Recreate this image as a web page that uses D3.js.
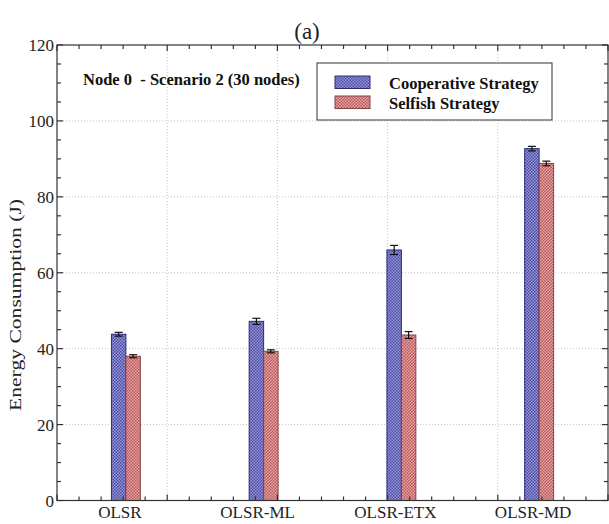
<!DOCTYPE html>
<html><head><meta charset="utf-8">
<script src="https://cdn.jsdelivr.net/npm/d3@7/dist/d3.min.js"></script>
<style>body{margin:0;background:#fff}svg{display:block}text{font-family:"Liberation Serif","Times New Roman",serif}</style>
</head><body><svg id="c" width="609" height="524"></svg>
<script>
const categories = ["OLSR","OLSR-ML","OLSR-ETX","OLSR-MD"];
const seriesNames = ["Cooperative Strategy","Selfish Strategy"];
const cooperative = [43.8, 47.2, 66.0, 92.7];
const cooperativeErr = [0.5, 0.8, 1.2, 0.6];
const selfish = [38.0, 39.3, 43.6, 88.8];
const selfishErr = [0.4, 0.4, 0.9, 0.6];
const yTicks = [0,20,40,60,80,100,120];
const xGridTicks = [1.3, 2.1, 2.9, 3.7];

const svg = d3.select("#c");
const m = {l:57, r:608, t:45, b:500.5};
const x = d3.scaleLinear().domain([0.5,4.5]).range([m.l,m.r]);
const y = d3.scaleLinear().domain([0,120]).range([m.b,m.t]);

const defs = svg.append("defs");
function pat(id, base, dot){
  const p = defs.append("pattern").attr("id",id).attr("width",3).attr("height",3).attr("patternUnits","userSpaceOnUse");
  p.append("rect").attr("width",3).attr("height",3).attr("fill",base);
  p.append("rect").attr("x",0).attr("y",0).attr("width",1.5).attr("height",1.5).attr("fill",dot);
  p.append("rect").attr("x",1.5).attr("y",1.5).attr("width",1.5).attr("height",1.5).attr("fill",dot);
}
pat("pb","#9898dc","#4a4a9e");
pat("pr","#e8a4a4","#b65a5a");

// grid
const g = svg.append("g");
g.selectAll(".gy").data(yTicks.filter(d=>d>0&&d<120)).join("line")
 .attr("x1",m.l).attr("x2",m.r).attr("y1",d=>y(d)).attr("y2",d=>y(d))
 .attr("stroke","#c4c4c4").attr("stroke-dasharray","1,2").attr("stroke-width",1);
g.selectAll(".gx").data(xGridTicks).join("line")
 .attr("y1",m.t).attr("y2",m.b).attr("x1",d=>x(d)).attr("x2",d=>x(d))
 .attr("stroke","#c4c4c4").attr("stroke-dasharray","1,2").attr("stroke-width",1);

// bars
const bw = 0.105;
const series = [
 {vals:cooperative, err:cooperativeErr, off:-bw, fill:"url(#pb)", stroke:"#2c2c78"},
 {vals:selfish, err:selfishErr, off:0, fill:"url(#pr)", stroke:"#8a4040"}
];
series.forEach(s=>{
  const gg = svg.append("g");
  gg.selectAll("rect").data(s.vals).join("rect")
   .attr("x",(d,i)=>x(i+1+s.off)).attr("width",x(bw)-x(0))
   .attr("y",d=>y(d)).attr("height",d=>y(0)-y(d))
   .attr("fill",s.fill).attr("stroke",s.stroke).attr("stroke-width",1);
  const cx = (i)=>x(i+1+s.off+bw/2);
  gg.selectAll(".e").data(s.vals).join("line")
   .attr("x1",(d,i)=>cx(i)).attr("x2",(d,i)=>cx(i))
   .attr("y1",(d,i)=>y(d-s.err[i])).attr("y2",(d,i)=>y(d+s.err[i]))
   .attr("stroke","#111").attr("stroke-width",1.2);
  [-1,1].forEach(sg=>{
    gg.selectAll(".c"+sg).data(s.vals).join("line")
     .attr("x1",(d,i)=>cx(i)-4).attr("x2",(d,i)=>cx(i)+4)
     .attr("y1",(d,i)=>y(d+sg*s.err[i])).attr("y2",(d,i)=>y(d+sg*s.err[i]))
     .attr("stroke","#111").attr("stroke-width",1.2);
  });
});

// frame and ticks
const ax = svg.append("g").attr("stroke","#333").attr("stroke-width",1.2);
ax.append("rect").attr("x",m.l).attr("y",m.t).attr("width",m.r-m.l).attr("height",m.b-m.t).attr("fill","none");
const yMinor = d3.range(0,121,5);
yMinor.forEach(v=>{
  const L = v%20===0?6:4;
  ax.append("line").attr("x1",m.l).attr("x2",m.l+L).attr("y1",y(v)).attr("y2",y(v));
  ax.append("line").attr("x1",m.r).attr("x2",m.r-L).attr("y1",y(v)).attr("y2",y(v));
});
const xMinor = d3.range(0,26).map(k=>0.5+0.16*k);
xMinor.forEach((v,k)=>{
  const L = (k%5===0)?6:4;
  ax.append("line").attr("y1",m.b).attr("y2",m.b-L).attr("x1",x(v)).attr("x2",x(v));
  ax.append("line").attr("y1",m.t).attr("y2",m.t+L).attr("x1",x(v)).attr("x2",x(v));
});

// y tick labels
svg.selectAll(".yl").data(yTicks).join("text")
 .attr("x",m.l-3).attr("y",d=>y(d)+6).attr("text-anchor","end")
 .attr("font-size",17).attr("fill","#222").text(d=>d);
// x labels
svg.selectAll(".xl").data(categories).join("text")
 .attr("x",(d,i)=>x(i+1)-6).attr("y",518).attr("text-anchor","middle")
 .attr("font-size",17).attr("fill","#222").text(d=>d);

svg.append("text").attr("transform",`translate(21,305) rotate(-90)`)
 .attr("text-anchor","middle").attr("font-size",16.5).attr("fill","#222")
 .attr("textLength",212).attr("lengthAdjust","spacingAndGlyphs").text("Energy Consumption (J)");
svg.append("text").attr("x",307).attr("y",39).attr("text-anchor","middle").attr("font-size",23).attr("fill","#222").text("(a)");
svg.append("text").attr("x",83).attr("y",85).attr("font-size",16.5).attr("font-weight","bold").attr("fill","#111")
 .attr("xml:space","preserve").text("Node 0  - Scenario 2 (30 nodes)");

// legend
const lg = svg.append("g");
lg.append("rect").attr("x",317).attr("y",63).attr("width",235).attr("height",57).attr("fill","#fff").attr("stroke","#333").attr("stroke-width",1);
const lf = ["url(#pb)","url(#pr)"], ls=["#2c2c78","#8a4040"];
seriesNames.forEach((n,i)=>{
  lg.append("rect").attr("x",335).attr("y",76+i*20).attr("width",35).attr("height",12.5).attr("fill",lf[i]).attr("stroke",ls[i]).attr("stroke-width",1);
  lg.append("text").attr("x",389).attr("y",89+i*20).attr("font-size",16.5).attr("font-weight","bold").attr("fill","#111").text(n);
});
</script></body></html>
